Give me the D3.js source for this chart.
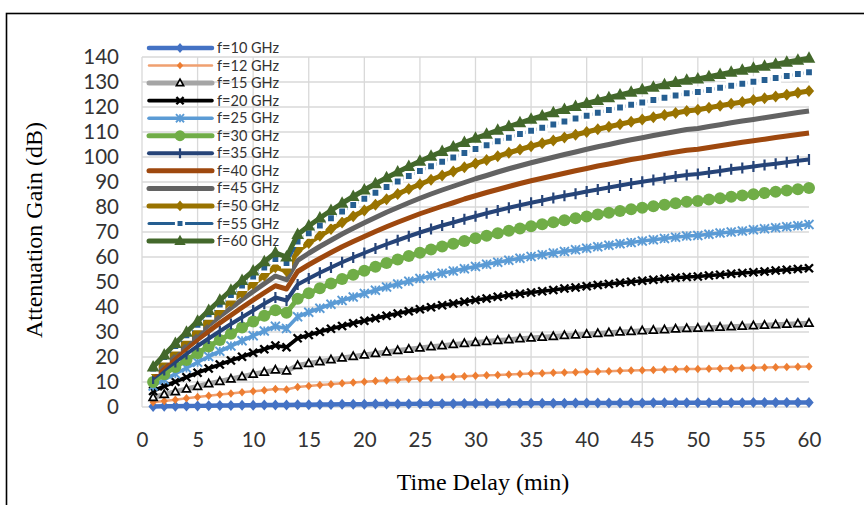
<!DOCTYPE html>
<html>
<head>
<meta charset="utf-8">
<script src="https://cdn.jsdelivr.net/npm/d3@7/dist/d3.min.js"></script>
<style>
  body { margin: 0; background: #fff; }
  svg { display: block; }
</style>
</head>
<body>
<script>
// time axis (min)
var minutes = [1,2,3,4,5,6,7,8,9,10,11,12,13,14,15,16,17,18,19,20,21,22,23,24,25,26,27,28,29,30,
  31,32,33,34,35,36,37,38,39,40,41,42,43,44,45,46,47,48,49,50,51,52,53,54,55,56,57,58,59,60];
var xTicks = [0,5,10,15,20,25,30,35,40,45,50,55,60];
var yTicks = [0,10,20,30,40,50,60,70,80,90,100,110,120,130,140];
var labels = ["f=10 GHz","f=12 GHz","f=15 GHz","f=20 GHz","f=25 GHz","f=30 GHz",
  "f=35 GHz","f=40 GHz","f=45 GHz","f=50 GHz","f=55 GHz","f=60 GHz"];

// attenuation gain (dB)
var f10 = [0.21,0.27,0.33,0.39,0.45,0.50,0.56,0.61,0.66,0.71,0.76,0.80,0.78,0.90,0.94,0.98,1.02,1.06,1.09,1.13,
  1.16,1.19,1.22,1.25,1.28,1.30,1.33,1.35,1.38,1.40,1.42,1.44,1.46,1.48,1.50,1.51,1.53,1.55,1.56,1.58,
  1.59,1.61,1.62,1.64,1.65,1.66,1.68,1.69,1.70,1.71,1.72,1.73,1.74,1.75,1.76,1.77,1.78,1.79,1.80,1.81];
var f12 = [1.9,2.4,2.9,3.5,4.0,4.5,5.0,5.4,5.9,6.3,6.7,7.2,7.0,8.0,8.4,8.8,9.1,9.5,9.8,10.1,
  10.4,10.6,10.9,11.2,11.4,11.6,11.9,12.1,12.3,12.5,12.7,12.8,13.0,13.2,13.4,13.5,13.7,13.8,13.9,14.1,
  14.2,14.3,14.5,14.6,14.7,14.8,15.0,15.1,15.2,15.2,15.3,15.4,15.5,15.6,15.7,15.8,15.9,16.0,16.1,16.2];
var f15 = [3.8,5.0,6.1,7.2,8.2,9.3,10.2,11.2,12.1,13.1,13.9,14.8,14.4,16.6,17.4,18.1,18.9,19.6,20.2,20.8,
  21.4,22.0,22.6,23.1,23.6,24.1,24.5,25.0,25.4,25.8,26.2,26.6,26.9,27.3,27.6,27.9,28.2,28.6,28.8,29.1,
  29.4,29.7,30.0,30.2,30.5,30.7,30.9,31.2,31.4,31.5,31.7,31.9,32.1,32.3,32.5,32.7,32.9,33.1,33.3,33.5];
var f20 = [6.4,8.3,10.1,11.9,13.7,15.4,17.0,18.6,20.1,21.7,23.1,24.6,23.9,27.5,28.8,30.1,31.3,32.4,33.5,34.5,
  35.5,36.5,37.4,38.3,39.1,39.9,40.7,41.4,42.1,42.8,43.4,44.1,44.7,45.3,45.8,46.3,46.8,47.4,47.8,48.3,
  48.8,49.2,49.7,50.1,50.5,50.9,51.3,51.7,52.0,52.2,52.6,52.9,53.3,53.6,53.9,54.2,54.6,54.9,55.2,55.5];
var f25 = [8.4,10.9,13.3,15.6,17.9,20.2,22.3,24.4,26.5,28.5,30.4,32.3,31.4,36.1,37.9,39.5,41.1,42.6,44.0,45.4,
  46.7,48.0,49.2,50.3,51.4,52.5,53.5,54.4,55.3,56.2,57.1,57.9,58.7,59.5,60.2,60.9,61.6,62.2,62.9,63.5,
  64.1,64.7,65.3,65.8,66.4,66.9,67.4,67.9,68.4,68.6,69.1,69.6,70.0,70.4,70.9,71.3,71.7,72.1,72.5,73.0];
var f30 = [10.0,13.1,16.0,18.8,21.5,24.2,26.8,29.3,31.8,34.2,36.5,38.7,37.7,43.3,45.5,47.5,49.4,51.2,52.9,54.5,
  56.1,57.6,59.0,60.4,61.7,63.0,64.2,65.3,66.4,67.5,68.5,69.5,70.5,71.4,72.3,73.1,73.9,74.7,75.5,76.2,
  77.0,77.7,78.4,79.1,79.7,80.3,80.9,81.5,82.1,82.4,83.0,83.5,84.1,84.6,85.1,85.6,86.1,86.6,87.1,87.6];
var f35 = [11.4,14.8,18.0,21.2,24.4,27.4,30.3,33.2,35.9,38.6,41.3,43.8,42.6,49.0,51.4,53.7,55.8,57.9,59.8,61.6,
  63.4,65.1,66.7,68.3,69.8,71.2,72.6,73.8,75.1,76.3,77.5,78.6,79.7,80.7,81.7,82.6,83.6,84.5,85.3,86.2,
  87.0,87.8,88.6,89.4,90.1,90.8,91.5,92.2,92.8,93.2,93.8,94.4,95.1,95.6,96.2,96.8,97.3,97.9,98.5,99.0];
var f40 = [12.6,16.3,20.0,23.5,27.0,30.3,33.6,36.7,39.8,42.8,45.7,48.5,47.2,54.2,56.9,59.4,61.8,64.1,66.2,68.2,
  70.2,72.1,73.9,75.6,77.3,78.8,80.3,81.7,83.2,84.5,85.8,87.0,88.2,89.4,90.5,91.5,92.5,93.5,94.5,95.4,
  96.4,97.2,98.1,99.0,99.7,100.5,101.3,102.0,102.7,103.1,103.8,104.5,105.2,105.9,106.5,107.1,107.8,108.4,109.0,109.6];
var f45 = [13.6,17.7,21.6,25.4,29.1,32.8,36.3,39.6,43.0,46.2,49.3,52.4,50.9,58.6,61.5,64.2,66.7,69.2,71.5,73.7,
  75.8,77.9,79.8,81.7,83.5,85.2,86.8,88.3,89.8,91.3,92.6,94.0,95.3,96.5,97.7,98.8,99.9,101.0,102.0,103.1,
  104.1,105.0,106.0,106.9,107.7,108.6,109.4,110.2,111.0,111.4,112.2,112.9,113.7,114.4,115.0,115.7,116.4,117.1,117.8,118.4];
var f50 = [14.5,18.8,23.0,27.1,31.1,35.0,38.7,42.3,45.8,49.3,52.6,55.9,54.4,62.5,65.6,68.5,71.2,73.8,76.3,78.6,
  80.9,83.1,85.2,87.2,89.1,90.9,92.6,94.2,95.9,97.4,98.8,100.3,101.7,103.0,104.3,105.5,106.6,107.8,108.9,110.0,
  111.1,112.1,113.1,114.1,115.0,115.9,116.8,117.6,118.4,118.9,119.7,120.5,121.3,122.0,122.8,123.5,124.2,124.9,125.7,126.4];
var f55 = [15.4,20.0,24.4,28.7,32.9,37.1,41.0,44.8,48.6,52.2,55.8,59.2,57.6,66.2,69.5,72.6,75.5,78.2,80.8,83.3,
  85.7,88.0,90.2,92.4,94.4,96.3,98.1,99.8,101.6,103.2,104.7,106.3,107.7,109.2,110.5,111.7,113.0,114.2,115.4,116.5,
  117.7,118.8,119.8,120.9,121.8,122.8,123.7,124.6,125.5,126.0,126.8,127.7,128.5,129.3,130.1,130.8,131.6,132.4,133.2,133.9];
var f60 = [16.0,20.8,25.4,29.9,34.3,38.6,42.7,46.7,50.6,54.4,58.1,61.7,60.0,69.0,72.4,75.6,78.6,81.5,84.2,86.8,
  89.3,91.7,94.0,96.2,98.3,100.3,102.2,104.0,105.8,107.5,109.1,110.7,112.2,113.7,115.1,116.4,117.7,119.0,120.2,121.4,
  122.6,123.7,124.8,125.9,126.9,127.9,128.9,129.8,130.7,131.2,132.1,133.0,133.9,134.7,135.5,136.3,137.1,137.9,138.7,139.5];

var series = [
  { name: labels[0],  values: f10, color: "#4472C4", width: 4.5, marker: "diamond",  r: 5.5, fill: "#4472C4", stroke: "none" },
  { name: labels[1],  values: f12, color: "#F0A070", width: 2.4, marker: "diamond",  r: 4.2, fill: "#ED7D31", stroke: "none" },
  { name: labels[2],  values: f15, color: "#A5A5A5", width: 5,   marker: "triangle", r: 3.8, fill: "#fff",    stroke: "#000", sw: 1.7 },
  { name: labels[3],  values: f20, color: "#000000", width: 3.6, marker: "x",        r: 4,   fill: "none",    stroke: "#000", sw: 2.4 },
  { name: labels[4],  values: f25, color: "#5B9BD5", width: 3.6, marker: "star",     r: 4.5, fill: "none",    stroke: "#5B9BD5", sw: 1.8 },
  { name: labels[5],  values: f30, color: "#70AD47", width: 5,   marker: "circle",   r: 6,   fill: "#70AD47", stroke: "none" },
  { name: labels[6],  values: f35, color: "#264478", width: 4,   marker: "dash",     r: 5.5, fill: "none",    stroke: "#264478", sw: 2.2 },
  { name: labels[7],  values: f40, color: "#9E480E", width: 5,   marker: "none" },
  { name: labels[8],  values: f45, color: "#636363", width: 5,   marker: "none" },
  { name: labels[9],  values: f50, color: "#997300", width: 5,   marker: "diamond",  r: 6,   fill: "#997300", stroke: "none" },
  { name: labels[10], values: f55, color: "#255E91", width: 3,   marker: "square",   r: 4.2, fill: "#255E91", stroke: "#fff", sw: 2.6 },
  { name: labels[11], values: f60, color: "#43682B", width: 5,   marker: "triangle", r: 6,   fill: "#43682B", stroke: "none" }
];

function markerPath(type, r) {
  switch (type) {
    case "diamond":  return "M0," + (-r) + "L" + (r * 0.85) + ",0L0," + r + "L" + (-r * 0.85) + ",0Z";
    case "triangle": return "M0," + (-r * 1.15) + "L" + (r * 1.05) + "," + (r * 0.75) + "L" + (-r * 1.05) + "," + (r * 0.75) + "Z";
    case "square":   return "M" + (-r) + "," + (-r) + "h" + (2 * r) + "v" + (2 * r) + "h" + (-2 * r) + "Z";
    case "circle":   return d3.symbol(d3.symbolCircle, Math.PI * r * r)();
    case "x":        return "M" + (-r) + "," + (-r) + "L" + r + "," + r + "M" + r + "," + (-r) + "L" + (-r) + "," + r;
    case "star":     return "M" + (-r) + "," + (-r) + "L" + r + "," + r + "M" + r + "," + (-r) + "L" + (-r) + "," + r + "M0," + (-r) + "V" + r;
    case "dash":     return "M0," + (-r) + "V" + r;
  }
  return "";
}

var width = 864, height = 505;

var svg = d3.select("body").append("svg")
  .attr("width", width)
  .attr("height", height);

// outer frame (cropped on the right and bottom)
svg.append("rect")
  .attr("x", 6.5).attr("y", 13.5)
  .attr("width", 900).attr("height", 600)
  .attr("fill", "none").attr("stroke", "#000").attr("stroke-width", 1.6);

var x = d3.scaleLinear().domain([0, 60]).range([142, 809]);
var y = d3.scaleLinear().domain([0, 140]).range([407, 57]);

// gridlines
svg.append("g").selectAll("line")
  .data(yTicks)
  .enter().append("line")
  .attr("x1", x(0)).attr("x2", x(60))
  .attr("y1", function (d) { return y(d); })
  .attr("y2", function (d) { return y(d); })
  .attr("stroke", "#d9d9d9").attr("stroke-width", 1.3);

svg.append("g").selectAll("line")
  .data(xTicks.slice(0, -1))
  .enter().append("line")
  .attr("x1", function (d) { return x(d); })
  .attr("x2", function (d) { return x(d); })
  .attr("y1", y(0)).attr("y2", y(140))
  .attr("stroke", "#d9d9d9").attr("stroke-width", 1.3);

// axes (labels only)
var yAxis = svg.append("g")
  .attr("transform", "translate(" + x(0) + ",0)")
  .call(d3.axisLeft(y).tickValues(yTicks).tickSize(0).tickPadding(23));
var xAxis = svg.append("g")
  .attr("transform", "translate(0," + y(0) + ")")
  .call(d3.axisBottom(x).tickValues(xTicks).tickSize(0).tickPadding(25));
[yAxis, xAxis].forEach(function (a) {
  a.select(".domain").remove();
  a.selectAll("text")
    .style("font-family", "Lato, 'Open Sans', sans-serif")
    .style("font-size", "20.5px")
    .attr("fill", "#333");
});

// axis titles
svg.append("text")
  .attr("transform", "translate(42,230) rotate(-90)")
  .attr("text-anchor", "middle")
  .style("font-family", "'Liberation Serif', 'Times New Roman', serif")
  .style("font-size", "24px")
  .text("Attenuation Gain (dB)");

svg.append("text")
  .attr("x", 483).attr("y", 490)
  .attr("text-anchor", "middle")
  .style("font-family", "'Liberation Serif', 'Times New Roman', serif")
  .style("font-size", "24px")
  .text("Time Delay (min)");

// series
var line = d3.line()
  .x(function (d, i) { return x(minutes[i]); })
  .y(function (d) { return y(d); });

series.forEach(function (s) {
  var g = svg.append("g");
  g.append("path")
    .attr("d", line(s.values))
    .attr("fill", "none")
    .attr("stroke", s.color)
    .attr("stroke-width", s.width)
    .attr("stroke-linejoin", "round");
  if (s.marker !== "none") {
    var p = markerPath(s.marker, s.r);
    g.selectAll("path.m")
      .data(s.values)
      .enter().append("path")
      .attr("class", "m")
      .attr("d", p)
      .attr("transform", function (d, i) { return "translate(" + x(minutes[i]) + "," + y(d) + ")"; })
      .attr("fill", s.fill)
      .attr("stroke", s.stroke)
      .attr("stroke-width", s.sw || 0);
  }
});

// legend
var legend = svg.append("g");
series.forEach(function (s, i) {
  var ly = 48 + i * 17.55;
  var row = legend.append("g").attr("transform", "translate(0," + ly + ")");
  row.append("line")
    .attr("x1", 149).attr("x2", 212)
    .attr("stroke", s.color).attr("stroke-width", s.width)
    .attr("stroke-linecap", "round");
  if (s.marker !== "none") {
    row.append("path")
      .attr("d", markerPath(s.marker, s.r * 0.9))
      .attr("transform", "translate(180,0)")
      .attr("fill", s.fill)
      .attr("stroke", s.stroke)
      .attr("stroke-width", s.sw || 0);
  }
  row.append("text")
    .attr("x", 217).attr("y", 0).attr("dy", "0.35em")
    .style("font-family", "Lato, 'Open Sans', sans-serif")
    .style("font-size", "14.5px")
    .attr("fill", "#333")
    .text(s.name);
});
</script>
</body>
</html>
